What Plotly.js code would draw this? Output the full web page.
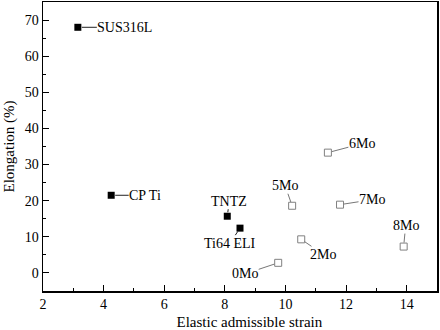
<!DOCTYPE html>
<html>
<head>
<meta charset="utf-8">
<script src="https://cdn.plot.ly/plotly-3.0.1.min.js"></script>
<style>html,body{margin:0;padding:0;background:#fff}#chart{width:440px;height:330px}</style>
</head>
<body>
<div id="chart"></div>
<script>
// Reference alloys (filled squares)
const refNames = ["SUS316L", "CP Ti", "TNTZ", "Ti64 ELI"];
const refStrain = [3.15, 4.25, 8.08, 8.5];
const refElong = [68, 21.5, 15.7, 12.4];

// Ti-Mo alloys (open squares)
const moNames = ["0Mo", "2Mo", "5Mo", "6Mo", "7Mo", "8Mo"];
const moStrain = [9.76, 10.52, 10.22, 11.4, 11.8, 13.9];
const moElong = [2.8, 9.3, 18.6, 33.3, 18.9, 7.3];

// Axis titles
const xTitle = "Elastic admissible strain";
const yTitle = "Elongation (%)";

// Label placement (pixel offsets of label centre from its point)
const labelOffsets = {
  "SUS316L": [47, 0], "CP Ti": [34, 0], "TNTZ": [2, -15], "Ti64 ELI": [-10, 15],
  "0Mo": [-33, 11], "2Mo": [22, 15], "5Mo": [-7, -20], "6Mo": [34, -9],
  "7Mo": [32, -5], "8Mo": [2, -21]
};

const font = "Liberation Serif, Times New Roman, serif";

const traces = [
  {
    type: "scatter", mode: "markers", x: refStrain, y: refElong, name: "Reference",
    marker: {symbol: "square", size: 7, color: "#000"}, hoverinfo: "x+y"
  },
  {
    type: "scatter", mode: "markers", x: moStrain, y: moElong, name: "Ti-Mo",
    marker: {symbol: "square-open", size: 7, color: "#808080", line: {width: 1}}, hoverinfo: "x+y"
  }
];

function makeAnn(names, xs, ys, lineColor) {
  return names.map((n, i) => ({
    x: xs[i], y: ys[i], xref: "x", yref: "y", text: n,
    showarrow: true, arrowhead: 0, arrowwidth: 1, arrowcolor: lineColor,
    ax: labelOffsets[n][0], ay: labelOffsets[n][1], standoff: 4, borderpad: 0,
    font: {family: font, size: 14, color: "#000"}
  }));
}

const annotations = makeAnn(refNames, refStrain, refElong, "#222")
  .concat(makeAnn(moNames, moStrain, moElong, "#777"));

const axisCommon = {
  showline: true, linecolor: "#000", linewidth: 1.5, mirror: true,
  ticks: "inside", ticklen: 6, tickwidth: 1, tickcolor: "#000",
  showgrid: false, zeroline: false,
  tickfont: {family: font, size: 14, color: "#000"}
};

const layout = {
  width: 440, height: 330,
  margin: {l: 43, r: 3, t: 2, b: 39},
  paper_bgcolor: "#fff", plot_bgcolor: "#fff",
  showlegend: false,
  xaxis: Object.assign({}, axisCommon, {
    range: [2, 15], dtick: 2, tick0: 0,
    minor: {ticks: "inside", dtick: 1, ticklen: 3, tickcolor: "#000", tickwidth: 1},
    title: {text: "&nbsp;&nbsp;&nbsp;&nbsp;&nbsp;" + xTitle, font: {family: font, size: 15, color: "#000"}, standoff: 6}
  }),
  yaxis: Object.assign({}, axisCommon, {
    range: [-5, 75], dtick: 10, tick0: 0,
    minor: {ticks: "inside", dtick: 5, ticklen: 3, tickcolor: "#000", tickwidth: 1},
    title: {text: yTitle, font: {family: font, size: 15, color: "#000"}, standoff: 6}
  }),
  annotations: annotations
};

Plotly.newPlot("chart", traces, layout, {staticPlot: true, displayModeBar: false});
</script>
</body>
</html>
